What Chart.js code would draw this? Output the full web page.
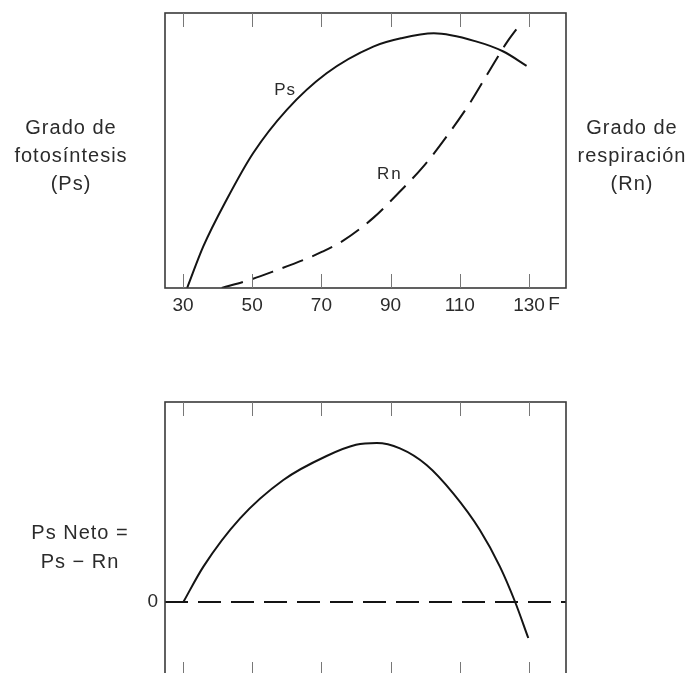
<!DOCTYPE html>
<html lang="es">
<head>
<meta charset="utf-8">
<title>Fotosíntesis y respiración</title>
<script src="https://cdn.jsdelivr.net/npm/chart.js@4.4.1/dist/chart.umd.min.js"></script>
<style>
  html, body { margin: 0; padding: 0; background: #fff; overflow: hidden; }
  #wrap { position: relative; width: 689px; height: 673px; overflow: hidden; }
  canvas { position: absolute; left: 0; }
  #top_chart { top: 0; }
  #net_chart { top: 390px; }
</style>
</head>
<body>
<div id="wrap">
  <canvas id="top_chart" width="689" height="330"></canvas>
  <canvas id="net_chart" width="689" height="300"></canvas>
</div>
<script>
// temperature axis (F)
const tempTicks = [30, 50, 70, 90, 110, 130];
const tempMin = 24.8;
const tempMax = 140.7;

// gross photosynthesis (Ps)
const psTemp = [31.2, 35.9, 42.6, 50.3, 60, 71.5, 85, 93, 102.5, 114.9, 122.6, 129.3];
const psRate = [0, 15.2, 32.1, 49.1, 64.8, 78.1, 87.8, 90.8, 92.6, 89.6, 86, 80.8];

// respiration (Rn)
const rnTemp = [41.2, 49.4, 57.1, 66, 70.1, 76.3, 85, 92.7, 99.5, 106.2, 112.9, 118.7, 123.6, 127.9];
const rnRate = [0, 3, 6.5, 10.8, 13.1, 17.2, 25.5, 35.1, 44.2, 55.1, 67.2, 79.3, 89.3, 96.6];

// net photosynthesis (Ps - Rn)
const netTemp = [30.1, 35.9, 46.5, 59, 71.5, 80, 86, 92.7, 100.4, 108.1, 115.8, 121.6, 126, 129.8];
const netRate = [0, 17.7, 41.8, 61, 73, 78.6, 79.5, 76.8, 68.5, 54.3, 36, 17.7, 0, -18];
const zeroTemp = [tempMin, tempMax];
const zeroRate = [0, 0];

const FONT = "'Liberation Sans', Arimo, Helvetica, Arial, sans-serif";
const INK = '#141414';
const TEXT = '#2b2b2b';

const toPoints = (xs, ys) => xs.map((x, i) => ({x: x, y: ys[i]}));

// box around the plot area plus short inward ticks on top and bottom edges
const frameTicks = {
  id: 'frameTicks',
  afterDatasetsDraw(chart) {
    const ctx = chart.ctx;
    const a = chart.chartArea;
    const xs = chart.scales.x;
    ctx.save();
    ctx.strokeStyle = '#3a3a3a';
    ctx.lineWidth = 1.6;
    ctx.strokeRect(a.left, a.top, a.right - a.left, a.bottom - a.top);
    ctx.strokeStyle = '#777';
    ctx.lineWidth = 1;
    ctx.beginPath();
    xs.ticks.forEach(t => {
      const px = Math.round(xs.getPixelForValue(t.value)) + 0.5;
      ctx.moveTo(px, a.top);
      ctx.lineTo(px, a.top + 14);
      ctx.moveTo(px, a.bottom);
      ctx.lineTo(px, a.bottom - 14);
    });
    ctx.stroke();
    ctx.restore();
  }
};

// free text: side titles (canvas px) and curve names (data units)
const annotations = {
  id: 'annotations',
  afterDraw(chart, args, opts) {
    const ctx = chart.ctx;
    const xs = chart.scales.x;
    const ys = chart.scales.y;
    ctx.save();
    ctx.fillStyle = TEXT;
    ctx.textAlign = 'center';
    ctx.textBaseline = 'middle';
    (opts.blocks || []).forEach(b => {
      ctx.font = `${b.size}px ${FONT}`;
      ctx.letterSpacing = (b.spacing || 0) + 'px';
      b.lines.forEach((line, i) => {
        ctx.fillText(line, b.x, b.y + i * b.lineHeight);
      });
    });
    (opts.curveNames || []).forEach(c => {
      ctx.font = `${c.size}px ${FONT}`;
      ctx.letterSpacing = (c.spacing || 0) + 'px';
      ctx.fillText(c.text, xs.getPixelForValue(c.at[0]), ys.getPixelForValue(c.at[1]));
    });
    if (opts.unit) {
      ctx.font = `19px ${FONT}`;
      ctx.letterSpacing = '0px';
      const last = tempTicks[tempTicks.length - 1];
      ctx.fillText(opts.unit, xs.getPixelForValue(last) + 25, chart.chartArea.bottom + 17);
    }
    ctx.restore();
  }
};

function tempAxis(showLabels) {
  return {
    type: 'linear',
    min: tempMin,
    max: tempMax,
    grid: {display: false, drawTicks: false},
    border: {display: false},
    afterBuildTicks(scale) {
      scale.ticks = tempTicks.map(v => ({value: v}));
    },
    afterFit(scale) {
      scale.height = showLabels ? 42 : 0;
    },
    ticks: {
      display: showLabels,
      padding: 6,
      color: TEXT,
      font: {family: FONT, size: 19}
    }
  };
}

const lineStyle = {
  showLine: true,
  pointRadius: 0,
  borderColor: INK,
  borderWidth: 2,
  cubicInterpolationMode: 'monotone',
  fill: false
};

new Chart(document.getElementById('top_chart'), {
  type: 'scatter',
  data: {
    datasets: [
      Object.assign({label: 'Ps', data: toPoints(psTemp, psRate)}, lineStyle),
      Object.assign({label: 'Rn', data: toPoints(rnTemp, rnRate), borderDash: [22, 10]}, lineStyle)
    ]
  },
  options: {
    responsive: false,
    animation: false,
    layout: {padding: {left: 165, right: 123, top: 13, bottom: 0}},
    scales: {
      x: tempAxis(true),
      y: {type: 'linear', min: 0, max: 100, display: false}
    },
    plugins: {
      legend: {display: false},
      tooltip: {enabled: false},
      annotations: {
        unit: 'F',
        blocks: [
          {lines: ['Grado de', 'fotosíntesis', '(Ps)'], x: 71, y: 128, lineHeight: 28, size: 20, spacing: 1},
          {lines: ['Grado de', 'respiración', '(Rn)'], x: 632, y: 128, lineHeight: 28, size: 20, spacing: 1}
        ],
        curveNames: [
          {text: 'Ps', at: [59.5, 72], size: 17, spacing: 1},
          {text: 'Rn', at: [89.8, 41.2], size: 17, spacing: 2}
        ]
      }
    }
  },
  plugins: [frameTicks, annotations]
});

new Chart(document.getElementById('net_chart'), {
  type: 'scatter',
  data: {
    datasets: [
      Object.assign({label: 'Ps Neto', data: toPoints(netTemp, netRate)}, lineStyle),
      Object.assign({}, lineStyle, {label: 'cero', data: toPoints(zeroTemp, zeroRate), borderDash: [23, 10]})
    ]
  },
  options: {
    responsive: false,
    animation: false,
    layout: {padding: {left: 135, right: 123, top: 12, bottom: 14}},
    scales: {
      x: tempAxis(false),
      y: {
        type: 'linear',
        min: -37,
        max: 100,
        grid: {display: false, drawTicks: false},
        border: {display: false},
        afterBuildTicks(scale) {
          scale.ticks = [{value: 0}];
        },
        afterFit(scale) {
          // only the zero label is shown, so no room is needed above/below
          scale.width = 30;
          scale.paddingTop = 0;
          scale.paddingBottom = 0;
        },
        ticks: {padding: 7, color: TEXT, font: {family: FONT, size: 19}}
      }
    },
    plugins: {
      legend: {display: false},
      tooltip: {enabled: false},
      annotations: {
        blocks: [
          {lines: ['Ps Neto =', 'Ps − Rn'], x: 80, y: 143, lineHeight: 29, size: 20, spacing: 1}
        ]
      }
    }
  },
  plugins: [frameTicks, annotations]
});
</script>
</body>
</html>
